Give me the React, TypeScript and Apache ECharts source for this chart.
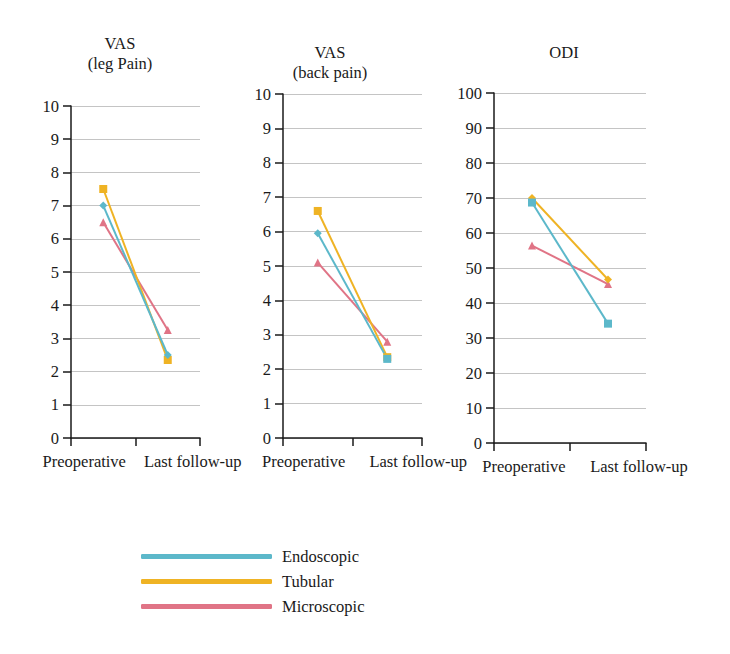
import React, { useEffect, useRef } from "react";
import * as echarts from "echarts";

const categories = ["Preoperative", "Last follow-up"];
const seriesNames = ["Endoscopic", "Tubular", "Microscopic"];
const colors = ["#5cb8ca", "#efb324", "#e07486"];

const panelTitles = ["VAS\n(leg Pain)", "VAS\n(back pain)", "ODI"];
const yMax = [10, 10, 100];
const yInterval = [1, 1, 10];

// values per panel: [Endoscopic, Tubular, Microscopic]
const vasLeg = [
  [7.0, 2.5],
  [7.5, 2.35],
  [6.5, 3.25],
];
const vasBack = [
  [5.95, 2.3],
  [6.6, 2.35],
  [5.1, 2.8],
];
const odi = [
  [68.7, 34.1],
  [70.0, 46.7],
  [56.4, 45.4],
];
const panelData = [vasLeg, vasBack, odi];

const symbols = [
  [["diamond", "diamond"], ["rect", "rect"], ["triangle", "triangle"]],
  [["diamond", "rect"], ["rect", "rect"], ["triangle", "triangle"]],
  [["rect", "rect"], ["diamond", "diamond"], ["triangle", "triangle"]],
];

const FONT = "'Liberation Serif', 'DejaVu Serif', serif";
const FS = 16.5;

export default function App() {
  const ref = useRef<HTMLDivElement>(null);
  useEffect(() => {
    if (!ref.current) return;
    const chart = echarts.init(ref.current, undefined, { renderer: "svg" });

    const grids = [
      { left: 71, top: 106, width: 129, height: 332 },
      { left: 283, top: 94, width: 139, height: 344 },
      { left: 494, top: 93, width: 152, height: 350 },
    ];
    const labelPad = [
      [[0, 38, 0, 0], [0, 0, 0, 50]],
      [[0, 28, 0, 0], [0, 0, 0, 62]],
      [[0, 16, 0, 0], [0, 0, 0, 62]],
    ];
    const titlePos = [
      { left: 115, top: 28 },
      { left: 325, top: 37 },
      { left: 559, top: 37 },
    ];

    const axisLine = { show: true, lineStyle: { color: "#1a1a1a", width: 1.5 } };
    const axisTick = { show: true, length: 8, lineStyle: { color: "#1a1a1a", width: 1.5 } };

    const xAxis = grids.map((_, i) => ({
      type: "category",
      gridIndex: i,
      data: categories.map((c, j) => ({
        value: c,
        textStyle: { padding: labelPad[i][j] },
      })),
      boundaryGap: true,
      axisLine,
      axisTick,
      axisLabel: {
        interval: 0,
        margin: 15,
        fontFamily: FONT,
        fontSize: FS,
        color: "#1a1a1a",
      },
      splitLine: { show: false },
    }));

    const yAxis = grids.map((_, i) => ({
      type: "value",
      gridIndex: i,
      min: 0,
      max: yMax[i],
      interval: yInterval[i],
      axisLine,
      axisTick,
      axisLabel: {
        margin: 12,
        fontFamily: FONT,
        fontSize: FS,
        color: "#1a1a1a",
      },
      splitLine: { show: true, lineStyle: { color: "#c4c4c4", width: 1 } },
    }));

    const order = [2, 1, 0];
    const series: any[] = [];
    panelData.forEach((pd, p) => {
      order.forEach((s) => {
        series.push({
          type: "line",
          name: seriesNames[s],
          xAxisIndex: p,
          yAxisIndex: p,
          color: colors[s],
          data: pd[s].map((v, j) => ({ value: v, symbol: symbols[p][s][j] })),
          symbolSize: 8,
          lineStyle: { width: 2, color: colors[s] },
          itemStyle: { color: colors[s] },
          emphasis: { disabled: true },
        });
      });
    });

    chart.setOption({
      animation: false,
      backgroundColor: "#ffffff",
      title: panelTitles.map((t, i) => ({
        text: t,
        left: titlePos[i].left,
        top: titlePos[i].top,
        textAlign: "center",
        textStyle: {
          fontFamily: FONT,
          fontSize: FS,
          fontWeight: "normal",
          color: "#1a1a1a",
          lineHeight: 20,
        },
      })),
      legend: {
        data: seriesNames,
        orient: "vertical",
        left: 141,
        top: 548,
        padding: 0,
        icon: "roundRect",
        itemWidth: 131,
        itemHeight: 5,
        itemGap: 8,
        textStyle: { fontFamily: FONT, fontSize: FS, color: "#1a1a1a", padding: [0, 0, 0, 5] },
        selectedMode: false,
      },
      grid: grids,
      xAxis,
      yAxis,
      series,
    });
    return () => chart.dispose();
  }, []);
  return (
    <div
      ref={ref}
      style={{ position: "absolute", left: 0, top: 0, width: 730, height: 654 }}
    />
  );
}
